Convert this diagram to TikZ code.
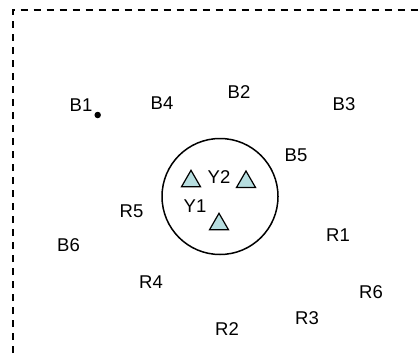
\documentclass[tikz,border=0pt]{standalone}
\usepackage{fontspec}
\setmainfont{Liberation Sans}
\usetikzlibrary{shapes.geometric}
\begin{document}
\begin{tikzpicture}[x=1pt,y=-1pt,
  lbl/.style={inner sep=0pt, font=\fontsize{18.5}{18.5}\selectfont},
  tri/.style={regular polygon, regular polygon sides=3, minimum size=22pt, inner sep=0pt, draw=black, line width=1.2pt, fill={rgb,255:red,183;green,222;blue,224}},
  frame/.style={draw=black, line width=1.8pt, dash pattern=on 7pt off 6pt}]
\useasboundingbox (0,0) rectangle (419,353);
\coordinate (fa) at (12.7,353);
\coordinate (fb) at (12.7,10);
\coordinate (fc) at (419,10);
\draw[frame] (fa) -- (fb) -- (fc);
\node[circle, draw=black, line width=1.5pt, minimum size=116pt, inner sep=0pt] (ring) at (220,196.5) {};
\node[tri] (t1) at (191,181.3) {};
\node[tri] (t2) at (246,182) {};
\node[tri] (t3) at (219,224.3) {};
\node[circle, fill=black, minimum size=6.5pt, inner sep=0pt] (dot) at (97.7,115) {};
\node[lbl] (B1) at (81,105) {B1};
\node[lbl] (B4) at (162,103) {B4};
\node[lbl] (B2) at (239,92) {B2};
\node[lbl] (B3) at (344,104) {B3};
\node[lbl] (B5) at (296,155) {B5};
\node[lbl] (Y2) at (219,177) {Y2};
\node[lbl] (Y1) at (195,206) {Y1};
\node[lbl] (R5) at (131.5,211) {R5};
\node[lbl] (B6) at (68.5,245.5) {B6};
\node[lbl] (R1) at (338,235) {R1};
\node[lbl] (R4) at (151,282) {R4};
\node[lbl] (R6) at (371,292) {R6};
\node[lbl] (R3) at (307,318) {R3};
\node[lbl] (R2) at (227,329) {R2};
\end{tikzpicture}
\end{document}
